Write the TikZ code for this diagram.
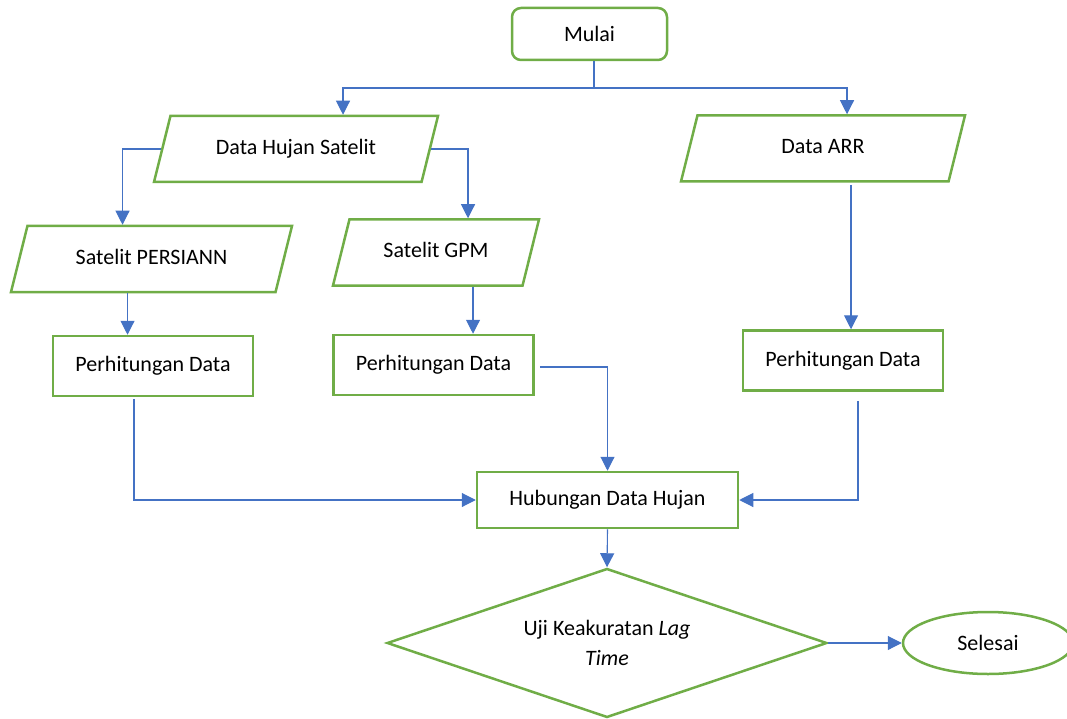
\documentclass[tikz,border=0pt]{standalone}
\usepackage{fontspec}
\setmainfont{Carlito}
\usetikzlibrary{shapes.geometric,arrows.meta}
\definecolor{boxgreen}{HTML}{70AD47}
\definecolor{linkblue}{HTML}{4472C4}
\tikzset{
  box/.style={draw=boxgreen, line width=2.5pt, rectangle, minimum width=200pt, minimum height=60pt},
  io/.style={draw=boxgreen, line width=2.5pt, trapezium, trapezium left angle=76, trapezium right angle=104,
    trapezium stretches body, text height=16pt, text depth=5pt, inner ysep=22.5pt},
  link/.style={draw=linkblue, line width=1.1pt},
  arr/.style={link, -{Triangle[length=14pt,width=14pt]}},
}
\begin{document}
\begin{tikzpicture}[x=1pt,y=-1pt,font=\fontsize{22}{28}\selectfont]
\useasboundingbox (0,0) rectangle (1067,719);
\node[draw=boxgreen, line width=2.5pt, rounded corners=9pt, minimum width=155pt, minimum height=52pt] (mulai) at (589.5,34) {Mulai};
\node[io, minimum width=284pt] (dhs) at (296,149) {Data Hujan Satelit};
\node[io, minimum width=284pt] (arr) at (823,148.5) {Data ARR};
\node[io, minimum width=281pt] (pers) at (151.5,259) {Satelit PERSIANN};
\node[io, minimum width=206pt] (gpm) at (436,252.5) {Satelit GPM};
\node[box] (hit1) at (153,366) {Perhitungan Data};
\node[box] (hit2) at (433.5,365) {Perhitungan Data};
\node[box] (hit3) at (843,360.5) {Perhitungan Data};
\node[box, minimum width=261pt, minimum height=56pt] (hub) at (607.5,500) {Hubungan Data Hujan};
\node[draw=boxgreen, line width=2.5pt, diamond, aspect=2.95, inner sep=0pt, minimum width=440pt, minimum height=149pt, align=center, font=\fontsize{22}{30}\selectfont] (uji) at (607,643) {Uji Keakuratan \textit{Lag}\\\textit{Time}};
\node[draw=boxgreen, line width=2.5pt, ellipse, minimum width=170pt, minimum height=62pt] (done) at (988,643) {Selesai};
% percabangan dari mulai
\coordinate (split) at (594,88);
\draw[link] (mulai.south -| split) -- (split);
\draw[arr] (split) -| ([xshift=47pt]dhs.north);
\draw[arr] (split) -| ([xshift=24pt]arr.north);
\draw[arr] (dhs.west) -| ([xshift=-29pt]pers.north);
\draw[arr] (dhs.east) -| ([xshift=32pt]gpm.north);
\draw[arr] ([xshift=-24pt]pers.south) -- ([xshift=-24pt]pers.south |- hit1.north);
\draw[arr] ([xshift=37pt]gpm.south) -- ([xshift=37pt]gpm.south |- hit2.north);
\draw[arr] ([xshift=28pt,yshift=-2pt]arr.south) -- ([xshift=28pt]arr.south |- hit3.north);
% menuju hubungan data
\draw[arr] ([xshift=-19pt,yshift=-2pt]hit1.south) |- (hub.west);
\draw[arr] ([xshift=5pt,yshift=-2pt]hit2.east) -| (hub.north);
\draw[arr] ([xshift=15pt,yshift=-9pt]hit3.south) |- (hub.east);
\draw[arr] (hub.south) -- (uji.north);
\draw[arr] (uji.east) -- (done.west);
\end{tikzpicture}
\end{document}
